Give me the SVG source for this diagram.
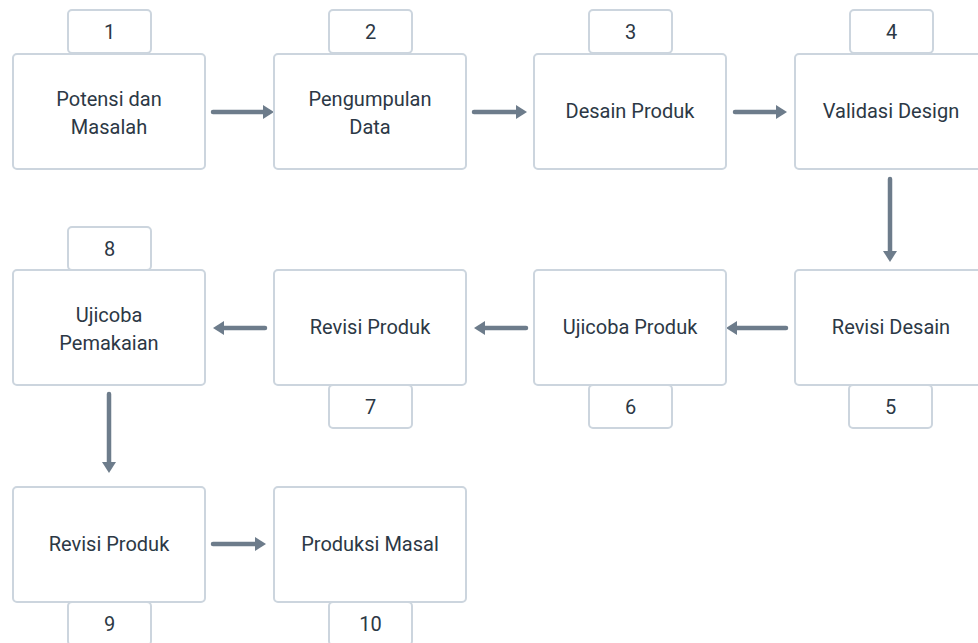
<svg xmlns="http://www.w3.org/2000/svg" width="978" height="643" viewBox="0 0 978 643">
  <defs>
    <marker id="head" markerUnits="userSpaceOnUse" markerWidth="12" markerHeight="14" refX="3" refY="7" orient="auto">
      <path d="M0,0 L11,7 L0,14 Z" fill="#6d7c8b"/>
    </marker>
    <style>
      .box { fill: #ffffff; stroke: #ccd5de; stroke-width: 2; }
      .tab { fill: #ffffff; stroke: #ccd5de; stroke-width: 2; }
      .lbl { font-family: Roboto, "Liberation Sans", sans-serif; font-size: 20px; font-weight: 400; fill: #2c3845; text-anchor: middle; }
      .link { fill: none; stroke: #6d7c8b; stroke-width: 4.5; stroke-linecap: round; marker-end: url(#head); }
    </style>
  </defs>
  <rect width="978" height="643" fill="#ffffff"/>

  <g id="connectors">
    <line class="link" x1="213" y1="112" x2="266" y2="112"/>
    <line class="link" x1="474" y1="112" x2="519" y2="112"/>
    <line class="link" x1="735" y1="112" x2="779" y2="112"/>
    <line class="link" x1="890" y1="179" x2="890" y2="254"/>
    <line class="link" x1="786" y1="328" x2="734" y2="328"/>
    <line class="link" x1="526" y1="328" x2="482" y2="328"/>
    <line class="link" x1="265" y1="328" x2="221" y2="328"/>
    <line class="link" x1="109" y1="394" x2="109" y2="465"/>
    <line class="link" x1="213" y1="544" x2="258" y2="544"/>
  </g>

  <g id="step-1">
    <rect class="tab" x="68" y="10" width="83" height="43" rx="4"/>
    <rect class="box" x="13" y="54" width="192" height="115" rx="4"/>
    <text class="lbl" x="109.5" y="39">1</text>
    <text class="lbl" x="109" y="106">Potensi dan</text>
    <text class="lbl" x="109" y="134">Masalah</text>
  </g>

  <g id="step-2">
    <rect class="tab" x="329" y="10" width="83" height="43" rx="4"/>
    <rect class="box" x="274" y="54" width="192" height="115" rx="4"/>
    <text class="lbl" x="370.5" y="39">2</text>
    <text class="lbl" x="370" y="106">Pengumpulan</text>
    <text class="lbl" x="370" y="134">Data</text>
  </g>

  <g id="step-3">
    <rect class="tab" x="589" y="10" width="83" height="43" rx="4"/>
    <rect class="box" x="534" y="54" width="192" height="115" rx="4"/>
    <text class="lbl" x="630.5" y="39">3</text>
    <text class="lbl" x="630" y="118">Desain Produk</text>
  </g>

  <g id="step-4">
    <rect class="tab" x="850" y="10" width="83" height="43" rx="4"/>
    <rect class="box" x="795" y="54" width="192" height="115" rx="4"/>
    <text class="lbl" x="891.5" y="39">4</text>
    <text class="lbl" x="891" y="118">Validasi Design</text>
  </g>

  <g id="step-5">
    <rect class="tab" x="849" y="385" width="83" height="43" rx="4"/>
    <rect class="box" x="795" y="270" width="192" height="115" rx="4"/>
    <text class="lbl" x="890.5" y="414">5</text>
    <text class="lbl" x="891" y="334">Revisi Desain</text>
  </g>

  <g id="step-6">
    <rect class="tab" x="589" y="385" width="83" height="43" rx="4"/>
    <rect class="box" x="534" y="270" width="192" height="115" rx="4"/>
    <text class="lbl" x="630.5" y="414">6</text>
    <text class="lbl" x="630" y="334">Ujicoba Produk</text>
  </g>

  <g id="step-7">
    <rect class="tab" x="329" y="385" width="83" height="43" rx="4"/>
    <rect class="box" x="274" y="270" width="192" height="115" rx="4"/>
    <text class="lbl" x="370.5" y="414">7</text>
    <text class="lbl" x="370" y="334">Revisi Produk</text>
  </g>

  <g id="step-8">
    <rect class="tab" x="68" y="227" width="83" height="43" rx="4"/>
    <rect class="box" x="13" y="270" width="192" height="115" rx="4"/>
    <text class="lbl" x="109.5" y="256">8</text>
    <text class="lbl" x="109" y="322">Ujicoba</text>
    <text class="lbl" x="109" y="350">Pemakaian</text>
  </g>

  <g id="step-9">
    <rect class="tab" x="68" y="602" width="83" height="43" rx="4"/>
    <rect class="box" x="13" y="487" width="192" height="115" rx="4"/>
    <text class="lbl" x="109.5" y="631">9</text>
    <text class="lbl" x="109" y="551">Revisi Produk</text>
  </g>

  <g id="step-10">
    <rect class="tab" x="329" y="602" width="83" height="43" rx="4"/>
    <rect class="box" x="274" y="487" width="192" height="115" rx="4"/>
    <text class="lbl" x="370.5" y="631">10</text>
    <text class="lbl" x="370" y="551">Produksi Masal</text>
  </g>
</svg>
